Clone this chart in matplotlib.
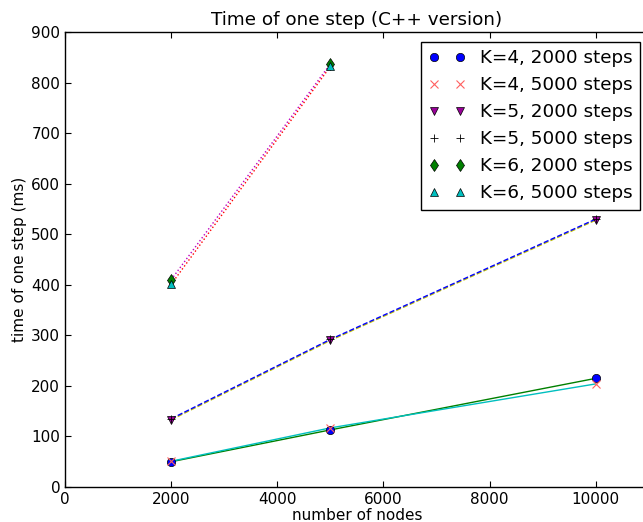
import matplotlib
matplotlib.use('Agg')
import matplotlib.pyplot as plt

# measured times (ms) per number of nodes
nodes = [2000, 5000, 10000]
nodes_k6 = [2000, 5000]

k4_2000 = [50, 113, 215]
k4_5000 = [51, 117, 204]
k5_2000 = [133, 290, 528]
k5_5000 = [135, 292, 530]
k6_2000 = [410, 837]
k6_5000 = [401, 832]

labels = ['K=4, 2000 steps', 'K=4, 5000 steps', 'K=5, 2000 steps',
          'K=5, 5000 steps', 'K=6, 2000 steps', 'K=6, 5000 steps']

plt.rcParams['font.family'] = ['DejaVu Sans']
plt.rcParams['xtick.direction'] = 'in'
plt.rcParams['ytick.direction'] = 'in'

G = (0, 0.5, 0)
C = (0, 0.75, 0.75)
M = (0.75, 0, 0.75)
Y = (0.75, 0.75, 0)

fig = plt.figure(figsize=(6.43, 5.22), dpi=100)
ax = fig.add_axes([0.1011, 0.067, 0.908, 0.8716])

# connecting lines
ax.plot(nodes, k4_2000, '-', color=G, lw=1)
ax.plot(nodes, k4_5000, '-', color=C, lw=1)
ax.plot(nodes, k5_2000, '--', color=Y, lw=1)
ax.plot(nodes, k5_5000, '--', color='b', lw=1)
ax.plot(nodes_k6, k6_2000, ':', color=M, lw=1)
ax.plot(nodes_k6, k6_5000, ':', color='r', lw=1)

# markers
ax.plot(nodes, k4_2000, 'o', color='b', mec='k', mew=0.5, ms=6, label=labels[0])
ax.plot(nodes, k4_5000, 'x', color='#ff6060', mew=0.8, ms=6, label=labels[1])
ax.plot(nodes, k5_2000, 'v', color='#990099', mec='k', mew=0.5, ms=6, label=labels[2])
ax.plot(nodes, k5_5000, '+', color='k', mew=0.6, ms=6, label=labels[3])
ax.plot(nodes_k6, k6_2000, 'd', color=G, mec='k', mew=0.5, ms=6, label=labels[4])
ax.plot(nodes_k6, k6_5000, '^', color=C, mec='k', mew=0.5, ms=6, label=labels[5])

ax.set_xlim(0, 11000)
ax.set_ylim(0, 900)
ax.set_xticks(range(0, 11000, 2000))
ax.set_yticks(range(0, 901, 100))
ax.tick_params(labelsize=11, length=4, top=True, right=True)
for s in ax.spines.values():
    s.set_linewidth(1)

ax.set_title('Time of one step (C++ version)', fontsize=13.2, pad=5)
ax.set_xlabel('number of nodes', fontsize=11, labelpad=1)
ax.set_ylabel('time of one step (ms)', fontsize=11, labelpad=3)

leg = ax.legend(loc='upper right', numpoints=2, fontsize=13.2, fancybox=False,
                framealpha=1, edgecolor='k', handlelength=2, borderaxespad=0,
                bbox_to_anchor=(1.0, 0.977), labelspacing=0.49)
leg.get_frame().set_linewidth(1)
leg.set_bbox_to_anchor((640 / 643, 480 / 522), transform=fig.transFigure)

fig.savefig('out.png', dpi=100)
